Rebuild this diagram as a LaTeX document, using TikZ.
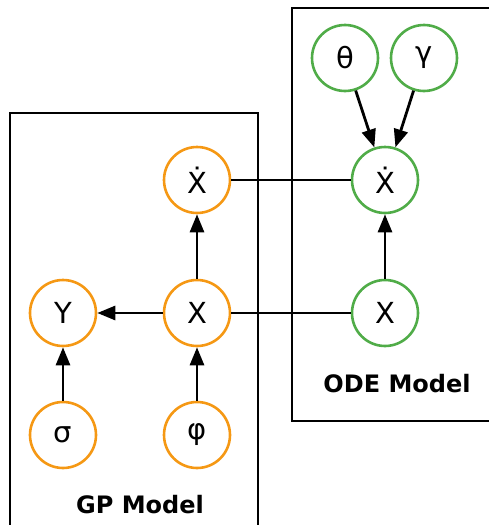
\documentclass[tikz,border=0pt]{standalone}
\usepackage{fontspec}
\setmainfont{DejaVu Sans}
\usetikzlibrary{arrows.meta}
\definecolor{gporange}{RGB}{245,152,20}
\definecolor{odegreen}{RGB}{80,172,72}
\begin{document}
\begin{tikzpicture}[x=1pt,y=-1pt,
  var/.style={circle,draw,line width=2.6pt,minimum size=66pt,inner sep=0pt,font=\fontsize{29}{29}\selectfont},
  gpv/.style={var,draw=gporange},
  odev/.style={var,draw=odegreen},
  box/.style={draw,line width=2.8pt},
  lbl/.style={font=\fontsize{24}{24}\selectfont\bfseries},
  link/.style={line width=2.8pt},
  arr/.style={line width=2.8pt,-{Triangle[length=18pt,width=14pt]}}]
\useasboundingbox (0,0) rectangle (488,525);
\draw[box] (10,530) -- (10,113) -- (258,113) -- (258,530);
\draw[box] (292,8) rectangle (492,421);
\node[gpv] (gxd) at (197,180) {\.X};
\node[gpv] (gx) at (197,313) {X};
\node[gpv] (gy) at (63,313) {Y};
\node[gpv] (gs) at (63,435) {σ};
\node[gpv] (gp) at (197,435) {φ};
\node[odev] (th) at (345,58) {θ};
\node[odev] (ga) at (424,58) {γ};
\node[odev] (oxd) at (385,180) {\.X};
\node[odev] (ox) at (385,313) {X};
\node[lbl] (gpl) at (140,505) {GP Model};
\node[lbl] (odel) at (397,384) {ODE Model};
\draw[link] (gxd) -- (oxd);
\draw[link] (gx) -- (ox);
\draw[arr] (gx) -- (gxd);
\draw[arr] (gx) -- (gy);
\draw[arr] (gs) -- (gy);
\draw[arr] (gp) -- (gx);
\draw[arr] (ox) -- (oxd);
\draw[arr] (th) -- (oxd);
\draw[arr] (ga) -- (oxd);
\end{tikzpicture}
\end{document}
